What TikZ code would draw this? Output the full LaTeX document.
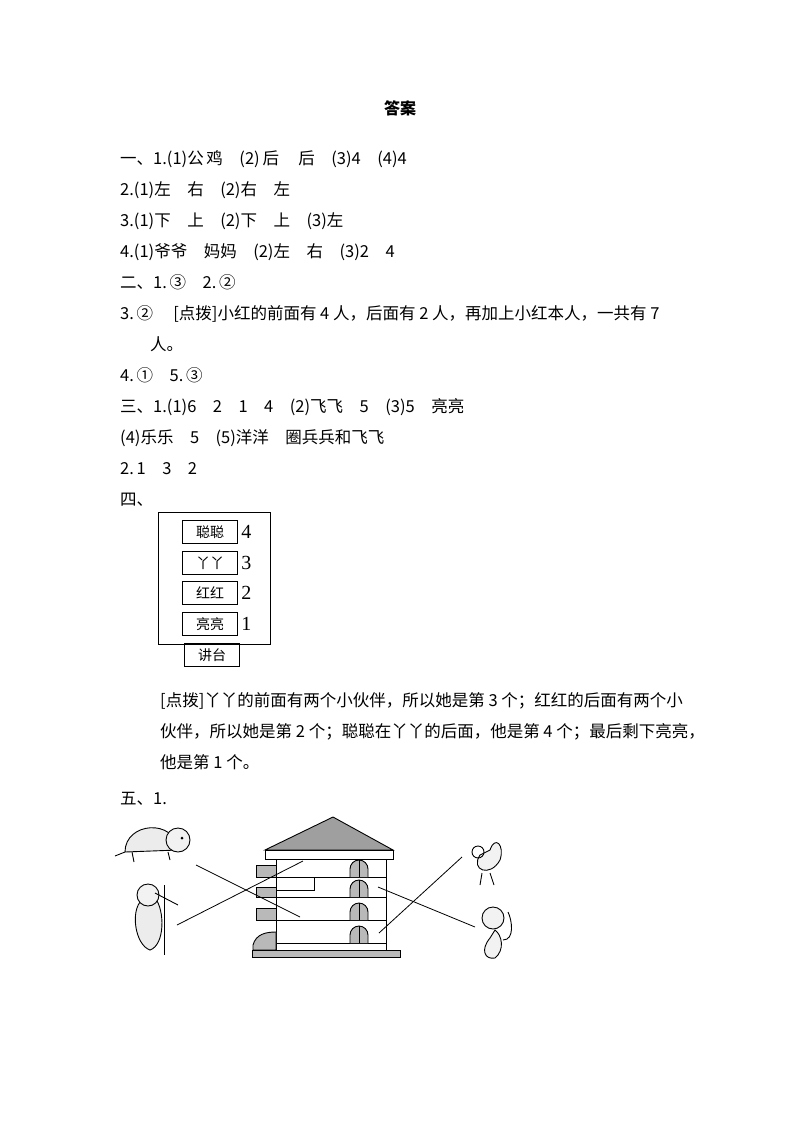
\documentclass[tikz,border=0pt]{standalone}
\usepackage{fontspec}
\setmainfont{Noto Sans CJK SC}
\newfontfamily\numfont{Liberation Serif}
\begin{document}
\begin{tikzpicture}[x=1pt,y=-1pt,
  ln/.style={anchor=base west,inner sep=0pt,font=\fontsize{16.5}{18}\selectfont},
  nm/.style={draw,thick,minimum width=55pt,minimum height=23pt,inner sep=0pt,font=\fontsize{14}{16}\selectfont},
  num/.style={anchor=west,font=\numfont\fontsize{20}{20}\selectfont},
  fig/.style={line width=0.9pt},
  gr/.style={fill=gray!55,draw=black,line width=0.9pt}]
\useasboundingbox (0,0) rectangle (800,1132);
\node[anchor=base,inner sep=0pt,font=\fontsize{16}{18}\selectfont\bfseries] (title) at (400,114) {答案};
\node[ln] (l1) at (120,164) {一、1.(1)公\,鸡\quad(2)\,后\quad\,后\quad(3)4\quad(4)4};
\node[ln] (l2) at (120,195) {2.(1)左\quad 右\quad(2)右\quad 左};
\node[ln] (l3) at (120,226) {3.(1)下\quad 上\quad(2)下\quad 上\quad(3)左};
\node[ln] (l4) at (120,257) {4.(1)爷爷\quad 妈妈\quad(2)左\quad 右\quad(3)2\quad 4};
\node[ln] (l5) at (120,288) {二、1.\,\char"2462\quad 2.\,\char"2461};
\node[ln] (l6) at (120,319) {3.\,\char"2461\quad\ [点拨]小红的前面有 4 人，后面有 2 人，再加上小红本人，一共有 7};
\node[ln] (l7) at (150,350) {人。};
\node[ln] (l8) at (120,381) {4.\,\char"2460\quad 5.\,\char"2462};
\node[ln] (l9) at (120,412) {三、1.(1)6\quad 2\quad 1\quad 4\quad(2)飞飞\quad 5\quad(3)5\quad 亮亮};
\node[ln] (l10) at (120,443) {(4)乐乐\quad 5\quad(5)洋洋\quad 圈兵兵和飞飞};
\node[ln] (l11) at (120,474) {2.\,1\quad 3\quad 2};
\node[ln] (l12) at (120,505) {四、};
% seating table
\draw[thick] (158,512) rectangle (270,644);
\node[nm] (b4) at (210,532) {聪聪};
\node[nm] (b3) at (210,563) {丫丫};
\node[nm] (b2) at (210,593) {红红};
\node[nm] (b1) at (210,624) {亮亮};
\node[num] (n4) at (b4.east) {4};
\node[num] (n3) at (b3.east) {3};
\node[num] (n2) at (b2.east) {2};
\node[num] (n1) at (b1.east) {1};
\node[nm] (jt) at (212,655) {讲台};
\node[ln] (p1) at (160,706) {[点拨]丫丫的前面有两个小伙伴，所以她是第 3 个；红红的后面有两个小};
\node[ln] (p2) at (160,737) {伙伴，所以她是第 2 个；聪聪在丫丫的后面，他是第 4 个；最后剩下亮亮，};
\node[ln] (p3) at (160,768) {他是第 1 个。};
\node[ln] (l13) at (120,804) {五、1.};
% house
\draw[fill=gray!75,line width=0.9pt] (265,850) -- (333,817) -- (393,850) -- cycle;
\draw[fig,fill=white] (265,850) rectangle (393,859);
\draw[fig] (276,859) rectangle (386,950);
\foreach \y in {877,897,920,943} \draw[fig] (276,\y) -- (386,\y);
\draw[fig] (276,890) -- (314,890) -- (314,877);
\draw[gr] (256,865) rectangle (276,877);
\draw[gr] (256,887) rectangle (276,897);
\draw[gr] (256,908) rectangle (276,920);
\draw[gr] (253,950) -- (253,945) .. controls (256,934) and (266,932) .. (276,932) -- (276,950) -- cycle;
\draw[gr] (252,950) rectangle (400,957);
\foreach \y in {877,897,920,943}{
  \draw[gr] (350,\y) -- (350,\y-8) arc[start angle=180,end angle=360,radius=9] -- (368,\y);
  \draw (359,\y) -- (359,\y-17);}
% animals (simple line sketches)
\coordinate (turtle) at (196,865);
\coordinate (wp) at (177,925);
\coordinate (rooster) at (462,857);
\coordinate (monkey) at (475,927);
\begin{scope}[fig]
 \draw[fill=gray!15] (125,852) .. controls (125,822) and (175,818) .. (178,850) -- cycle;
 \draw[fill=gray!10] (178,840) circle[radius=12];
 \fill (182,838) circle[radius=1.5];
 \draw (132,852) -- (134,862) (168,852) -- (170,860) (125,852) -- (115,856);
 \draw[fill=gray!15] (142,900) .. controls (130,910) and (135,945) .. (150,950) .. controls (165,945) and (165,910) .. (155,898) -- cycle;
 \draw[fill=gray!10] (148,895) circle[radius=11];
 \draw (155,893) -- (178,905);
 \draw (164,885) -- (164,955);
 \draw[fill=gray!10] (480,855) .. controls (470,870) and (490,878) .. (500,860) .. controls (505,845) and (495,835) .. (490,850) -- cycle;
 \draw (478,852) circle[radius=6];
 \draw (482,873) -- (480,885) (490,873) -- (494,885);
 \draw[fill=gray!10] (490,938) .. controls (480,950) and (485,960) .. (495,958) .. controls (505,950) and (502,935) .. (495,930) -- cycle;
 \draw[fill=gray!10] (493,918) circle[radius=11];
 \draw (503,940) .. controls (515,940) and (512,920) .. (508,912);
\end{scope}
\draw[line width=0.8pt] (turtle) -- (300,917);
\draw[line width=0.8pt] (wp) -- (303,861);
\draw[line width=0.8pt] (rooster) -- (379,933);
\draw[line width=0.8pt] (monkey) -- (378,887);
\end{tikzpicture}
\end{document}
